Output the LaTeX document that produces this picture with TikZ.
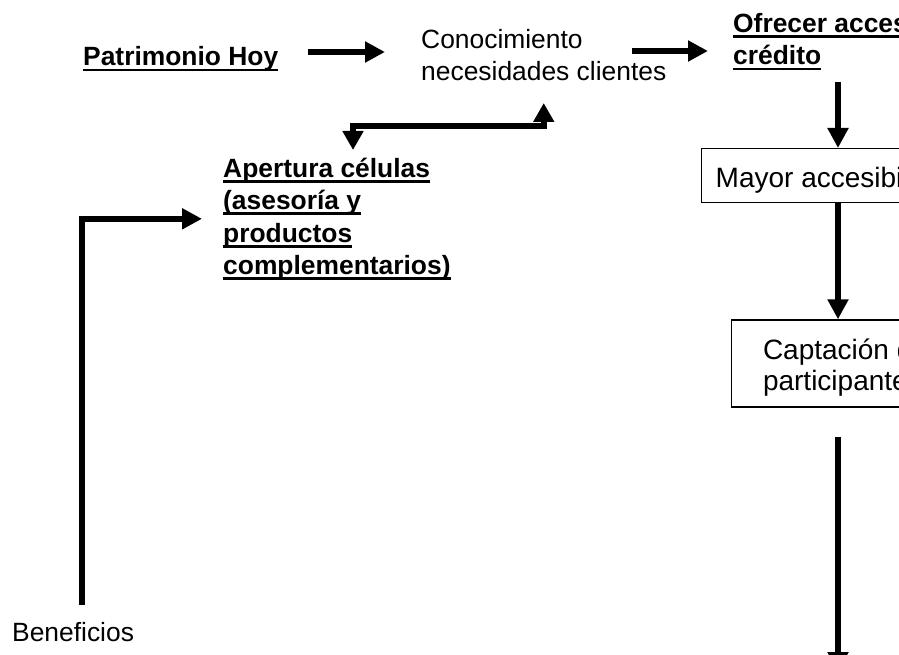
\documentclass[tikz,border=0pt]{standalone}
\usepackage{fontspec}
\setmainfont{Liberation Sans}
\usetikzlibrary{arrows.meta}

% underlined heading text: a rule under the full width of the word box
\newsavebox{\ulbox}
\newcommand{\undl}[1]{\sbox{\ulbox}{#1}\rlap{\rule[-5.5pt]{\wd\ulbox}{2.6pt}}\usebox{\ulbox}}

\begin{document}
\begin{tikzpicture}[x=1pt, y=-1pt,
  txt/.style={inner sep=0pt, align=left, font=\fontsize{26.4}{32.5}\selectfont},
  hd/.style={txt, font=\fontsize{26.4}{32.5}\selectfont\bfseries},
  box/.style={draw, line width=1.4pt, inner sep=0pt, align=left,
    font=\fontsize{28}{31}\selectfont},
  fat/.style={line width=6pt, -{Triangle[length=20pt,width=20pt]}},
  fatboth/.style={line width=6pt,
    {Triangle[length=19pt,width=20pt]}-{Triangle[length=19pt,width=20pt]}}]

\useasboundingbox (0,0) rectangle (899,655);
\clip (0,0) rectangle (899,655);

% text blocks (base anchor = baseline of the last line)
\node[hd, anchor=base west] (pat) at (83,66) {\undl{Patrimonio Hoy}};
\node[txt, anchor=base west, font=\fontsize{26.4}{32}\selectfont] (con) at (421,81)
  {Conocimiento\\necesidades clientes};
\node[hd, anchor=base west] (ofr) at (733,65) {\undl{Ofrecer acceso al}\\\undl{crédito}};
\node[hd, anchor=base west] (ape) at (223,274.5)
  {\undl{Apertura células}\\\undl{(asesoría y}\\\undl{productos}\\\undl{complementarios)}};
\node[txt, anchor=base west] (ben) at (12,641) {Beneficios};

% framed steps
\node[box, anchor=north west, minimum height=54pt, text height=28pt, text depth=4pt,
  inner xsep=14pt] (may) at (701,148) {Mayor accesibilidad};
\node[box, minimum width=212.6pt, minimum height=87pt] (cap) at (838,363.5)
  {\rule{0pt}{28.5pt}\hspace*{15pt}Captación de\\\hspace*{15pt}participantes};
\coordinate (nxt) at (838,672);

% connectors
\draw[fat, shorten <=30pt, shorten >=36pt]
  ([yshift=14pt]pat.base east) -- ([yshift=29pt]con.base west);
\draw[fat, shorten >=25pt]
  ([xshift=211pt,yshift=30pt]con.base west) -- ([yshift=14pt]ofr.base west);
\draw[fat, shorten <=17pt] (cap.north |- ofr.base) -- (cap.north |- may.north);
\draw[fat] (cap.north |- may.south) -- (cap.north);
\draw[fat, shorten <=29pt] (cap.south) -- (nxt);
\draw[fatboth, shorten <=27pt, shorten >=22pt]
  ([xshift=130pt,yshift=97.5pt]ape.base west) -- ++(0,-51) -| (con.base);
\draw[fat, shorten <=36pt, shorten >=21pt]
  ([xshift=70pt]ben.base west) |- (ape.west);
\end{tikzpicture}
\end{document}
